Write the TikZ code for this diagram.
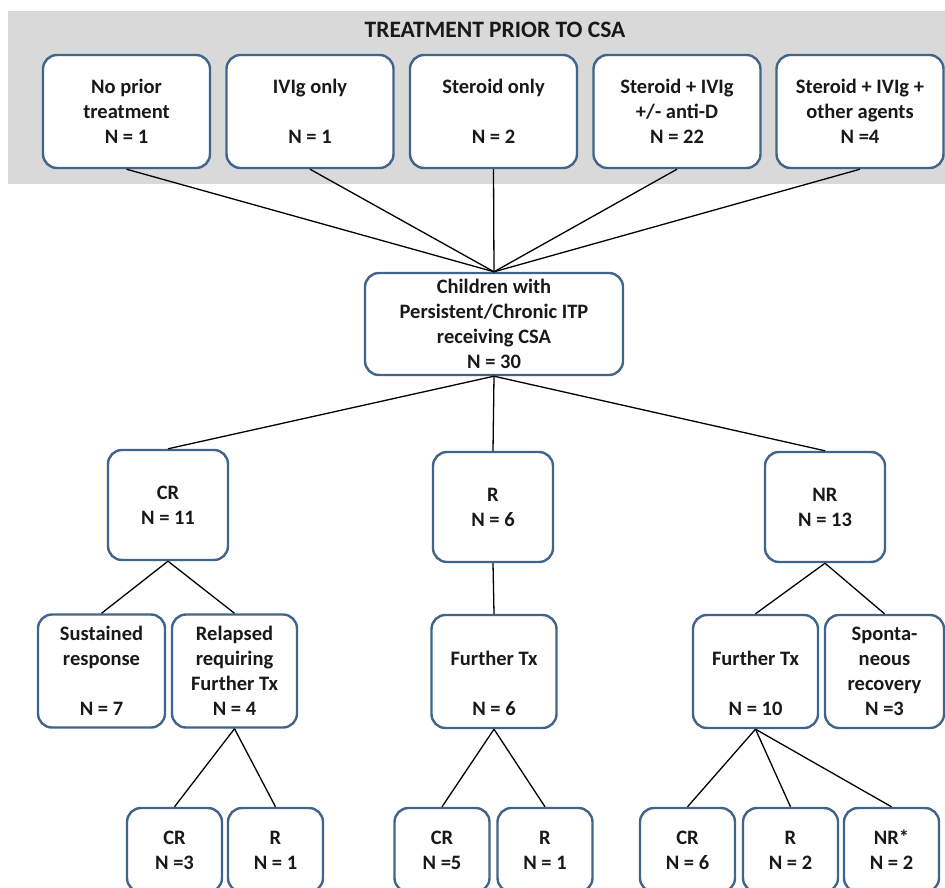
\documentclass[tikz,border=0pt]{standalone}
\usepackage{fontspec}
\setmainfont{Carlito}
\definecolor{boxblue}{HTML}{41648D}
\definecolor{band}{HTML}{D9D9D9}
\newcommand{\emptyline}{\vphantom{N}}
\tikzset{
 box/.style={draw=boxblue, line width=2.4pt, fill=white, rounded corners=14pt, align=center, font=\bfseries\fontsize{20.5}{25}\selectfont, inner sep=0pt, text=black!90},
 topbox/.style={box, minimum width=167pt, minimum height=113pt},
 midbox/.style={box, minimum width=120pt, minimum height=110pt},
 thirdbox/.style={box, minimum width=125pt, minimum height=113pt},
 lowbox/.style={box, minimum width=95pt, minimum height=84pt},
 link/.style={draw=black, line width=1.3pt},
}
\begin{document}
\begin{tikzpicture}[x=1pt,y=-1pt]
\useasboundingbox (0,0) rectangle (945,888);
\clip (0,0) rectangle (945,888);
\fill[band] (8,11) rectangle (945,184);
\node[font=\bfseries\fontsize{23.5}{28}\selectfont, text=black!90] (title) at (495,30) {TREATMENT PRIOR TO CSA};
% top row
\node[topbox] (t1) at (126.5,111.5) {No prior\\treatment\\N = 1};
\node[topbox] (t2) at (310,111.5) {IVIg only\\\emptyline\\N = 1};
\node[topbox] (t3) at (493.5,111.5) {Steroid only\\\emptyline\\N = 2};
\node[topbox] (t4) at (677,111.5) {Steroid + IVIg\\+/- anti-D\\N = 22};
\node[topbox] (t5) at (860,111.5) {Steroid + IVIg +\\other agents\\N =4};
% main
\node[box, minimum width=258pt, minimum height=102pt] (main) at (494,324) {Children with\\Persistent/Chronic ITP\\receiving CSA\\N = 30};
% second row
\node[midbox] (cr) at (168,505) {CR\\N = 11};
\node[midbox] (r) at (493,507) {R\\N = 6};
\node[midbox] (nr) at (825,507) {NR\\N = 13};
% third row
\node[thirdbox, minimum width=127pt] (sus) at (101.5,671) {Sustained\\response\\\emptyline\\N = 7};
\node[thirdbox] (rel) at (234.5,671) {Relapsed\\requiring\\Further Tx\\N = 4};
\node[thirdbox] (ftm) at (494,671.5) {\emptyline\\Further Tx\\\emptyline\\N = 6};
\node[thirdbox] (ftr) at (755.5,671.5) {\emptyline\\Further Tx\\\emptyline\\N = 10};
\node[thirdbox, minimum width=119pt] (spo) at (884.5,671.5) {Sponta-\\neous\\recovery\\N =3};
% bottom row
\node[lowbox] (b1) at (174.5,850) {CR\\N =3};
\node[lowbox] (b2) at (275.5,850) {R\\N = 1};
\node[lowbox] (b3) at (442,850) {CR\\N =5};
\node[lowbox] (b4) at (545,850) {R\\N = 1};
\node[lowbox] (b5) at (687.5,850) {CR\\N = 6};
\node[lowbox] (b6) at (790.5,850) {R\\N = 2};
\node[lowbox] (b7) at (891.5,850) {NR*\\N = 2};
% links
\foreach \t in {t1,t2,t3,t4,t5} \draw[link] (\t.south) -- (main.north);
\draw[link] (main.south) -- (cr.north);
\draw[link] (main.south) -- (r.north);
\draw[link] (main.south) -- (nr.north);
\draw[link] (cr.south) -- (sus.north);
\draw[link] (cr.south) -- (rel.north);
\draw[link] (r.south) -- (ftm.north);
\draw[link] (nr.south) -- (ftr.north);
\draw[link] (nr.south) -- (spo.north);
\draw[link] (rel.south) -- (b1.north);
\draw[link] (rel.south) -- (b2.north);
\draw[link] (ftm.south) -- (b3.north);
\draw[link] (ftm.south) -- (b4.north);
\draw[link] (ftr.south) -- (b5.north);
\draw[link] (ftr.south) -- (b6.north);
\draw[link] (ftr.south) -- (b7.north);
\end{tikzpicture}
\end{document}
